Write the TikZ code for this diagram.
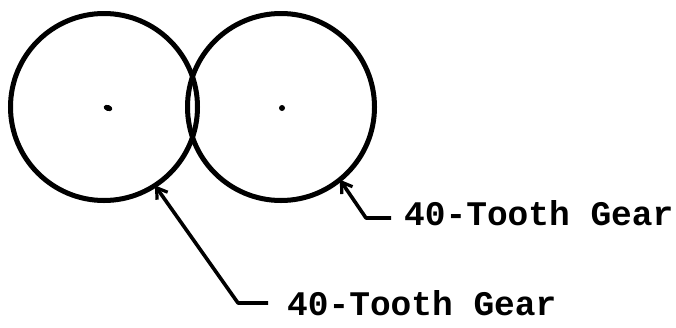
\documentclass[tikz,border=0pt]{standalone}
\usepackage{fontspec}
\newfontfamily\typew{Liberation Mono}
\usetikzlibrary{arrows.meta,shapes.geometric}
\tikzset{
  gear/.style={circle, draw, line width=5pt, minimum size=187pt, inner sep=0pt, outer sep=0pt},
  hub/.style={fill, ellipse, inner sep=0pt},
  leader/.style={line width=3.6pt, line join=round, -{Straight Barb[length=10pt,width=13pt,line width=3.2pt]}},
  lbl/.style={anchor=base west, inner sep=0pt, font=\typew\bfseries\fontsize{34.5pt}{37pt}\selectfont}
}
\begin{document}
\begin{tikzpicture}[x=1pt,y=-1pt]
\useasboundingbox (0,0) rectangle (676,327);
\node[gear] (g1) at (104,107) {};
\node[gear] (g2) at (281,107) {};
\node[hub, minimum width=9pt, minimum height=6pt, rotate=-20] (h1) at (108,108) {};
\node[hub, minimum width=6pt, minimum height=6pt] (h2) at (282,108) {};
\node[lbl] (t1) at (404,225) {40-Tooth Gear};
\node[lbl] (t2) at (287,315) {40-Tooth Gear};
\coordinate (e1) at (391,218);
\coordinate (k1) at (366,218);
\coordinate (e2) at (268,303);
\coordinate (k2) at (238,303);
\draw[leader] (e1) -- (k1) -- (g2.-51);
\draw[leader] (e2) -- (k2) -- (g1.-57);
\end{tikzpicture}
\end{document}
